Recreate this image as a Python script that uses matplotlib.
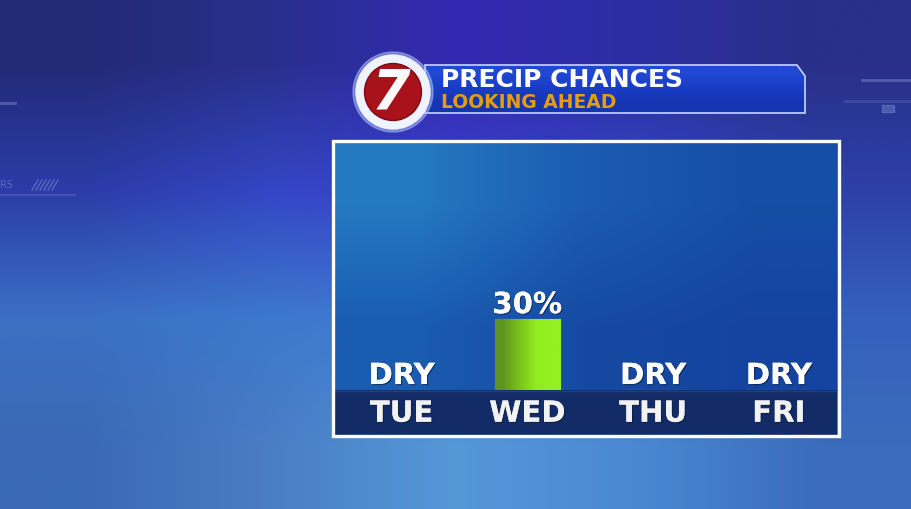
import numpy as np
import matplotlib
matplotlib.use("Agg")
import matplotlib.pyplot as plt
from matplotlib.patches import Rectangle, Polygon, Circle
from matplotlib.colors import to_rgb
import matplotlib.patheffects as pe

# ---- data ----
days = ["TUE", "WED", "THU", "FRI"]
chances = [0, 30, 0, 0]
title = "PRECIP CHANCES"
subtitle = "LOOKING AHEAD"

W, H = 911, 509
fig = plt.figure(figsize=(W / 100, H / 100), dpi=100)

# ---- background (pixel coordinates) ----
bg = fig.add_axes([0, 0, 1, 1], zorder=0)
bg.set_xlim(0, W)
bg.set_ylim(H, 0)
bg.axis("off")

grid_cols = [
    ["#222a76", "#28308c", "#3429b2", "#2c2ea2", "#283088"],
    ["#2b3ca8", "#3346c4", "#3a3fcc", "#3345c4", "#2d40a8"],
    ["#3a70c4", "#3c78cc", "#4678d4", "#3a6cc8", "#3560bc"],
    ["#3a6ab4", "#4a7ec4", "#5498d8", "#4a88d2", "#3a6cbc"],
]
bgimg = np.array([[to_rgb(c) for c in row] for row in grid_cols])
bg.imshow(bgimg, extent=[0, W, H, 0], aspect="auto", interpolation="bilinear", zorder=0)

# faint decorations
deco = dict(color="#9fb0ee", alpha=0.35, lw=2, zorder=1)
bg.plot([862, 911], [80, 80], **deco)
bg.plot([845, 911], [101, 101], color="#8090d0", alpha=0.25, lw=2, zorder=1)
bg.add_patch(Rectangle((882, 105), 12, 7, color="#9fb0ee", alpha=0.3, zorder=1))
bg.plot([0, 15], [103, 103], **deco)
bg.plot([0, 75], [195, 195], color="#9fb0ee", alpha=0.2, lw=1.5, zorder=1)
for k in range(6):
    x0 = 32 + k * 4
    bg.plot([x0, x0 + 6], [190, 180], color="#b0c0f0", alpha=0.35, lw=1, zorder=1)
bg.text(0, 185, "RS", color="#b0c0f0", alpha=0.35, fontsize=7, va="center", ha="left", zorder=1)

# ---- title banner ----
banner_pts = [(425, 65), (797, 65), (805, 76), (805, 113), (425, 113)]
banner = Polygon(banner_pts, closed=True, facecolor="#1a3cc2", edgecolor="none", zorder=2)
bg.add_patch(banner)
bgrad = np.array([[to_rgb("#2048d2")], [to_rgb("#1a3cc4")], [to_rgb("#1434b0")]])
im = bg.imshow(bgrad, extent=[425, 805, 113, 65], aspect="auto", interpolation="bilinear", zorder=2.1)
im.set_clip_path(banner)
bg.add_patch(Polygon(banner_pts, closed=True, facecolor="none", edgecolor="#c8d6ff", lw=1.2, zorder=2.2))

# logo
bg.add_patch(Circle((393, 92), 40, color="#aec4ff", alpha=0.5, zorder=3))
bg.add_patch(Circle((393, 92), 37, color="#eef3ff", zorder=3.1))
bg.add_patch(Circle((393, 92), 28.5, facecolor="#a8121a", edgecolor="#7a0c12", lw=1, zorder=3.2))
bg.text(391, 93, "7", color="white", fontsize=40, fontweight="bold", style="italic",
        ha="center", va="center", zorder=3.3, family="DejaVu Sans")

bg.text(441, 87, title, color="white", fontsize=18, fontweight="bold",
        ha="left", va="baseline", zorder=4, family="DejaVu Sans")
bg.text(441, 108, subtitle, color="#e39d12", fontsize=13.5, fontweight="bold",
        ha="left", va="baseline", zorder=4, family="DejaVu Sans")

# ---- chart panel ----
bg.add_patch(Rectangle((332.5, 140.5), 506, 296, facecolor="none", edgecolor="white", lw=2.4, zorder=5))
pgrad = np.array([[to_rgb("#2479c2"), to_rgb("#1b5cb0"), to_rgb("#164ea6")],
                  [to_rgb("#1a5cb0"), to_rgb("#164aa2"), to_rgb("#1444a0")]])
bg.imshow(pgrad, extent=[334, 837, 390, 142], aspect="auto", interpolation="bilinear", zorder=4.5)
bg.add_patch(Rectangle((334, 390), 503, 45, facecolor="#132b66", edgecolor="none", zorder=4.6))
bg.plot([334, 837], [390.5, 390.5], color="#1f3f88", lw=1, zorder=4.7)

ax = fig.add_axes([334 / W, (H - 390) / H, 503 / W, (390 - 142) / H], zorder=6)
ax.patch.set_alpha(0)
x = np.arange(len(days))
bars = ax.bar(x, chances, width=0.517, color="#86d61e", edgecolor="#9cc870", lw=0.8, zorder=2)
ggrad = np.array([[to_rgb("#5f9420"), to_rgb("#7cc21c"), to_rgb("#92ec1e"), to_rgb("#94f020")]])
for b in bars:
    if b.get_height() > 0:
        gi = ax.imshow(ggrad, extent=[b.get_x(), b.get_x() + b.get_width(), 0, b.get_height()],
                       aspect="auto", interpolation="bilinear", zorder=2.5)
        gi.set_clip_path(b)

ax.set_xlim(-0.537, 3.463)
ax.set_ylim(0, 105)
for s in ax.spines.values():
    s.set_visible(False)
ax.set_yticks([])
ax.set_xticks(x, days)
ax.tick_params(axis="x", length=0, pad=7, labelsize=21, labelcolor="#f2f2f2")
shadow = [pe.withSimplePatchShadow(offset=(0.8, -0.8), shadow_rgbFace="#0a1838", alpha=0.6), pe.Normal()]
for lab in ax.get_xticklabels():
    lab.set_fontweight("bold")
    lab.set_path_effects(shadow)

for xi, c in zip(x, chances):
    txt = "DRY" if c == 0 else f"{c}%"
    ax.annotate(txt, (xi, c), xytext=(0, 4.3), textcoords="offset points",
                ha="center", va="baseline", color="white", fontsize=21, fontweight="bold",
                path_effects=shadow, zorder=3, annotation_clip=False)

fig.savefig("out.png", dpi=100)
